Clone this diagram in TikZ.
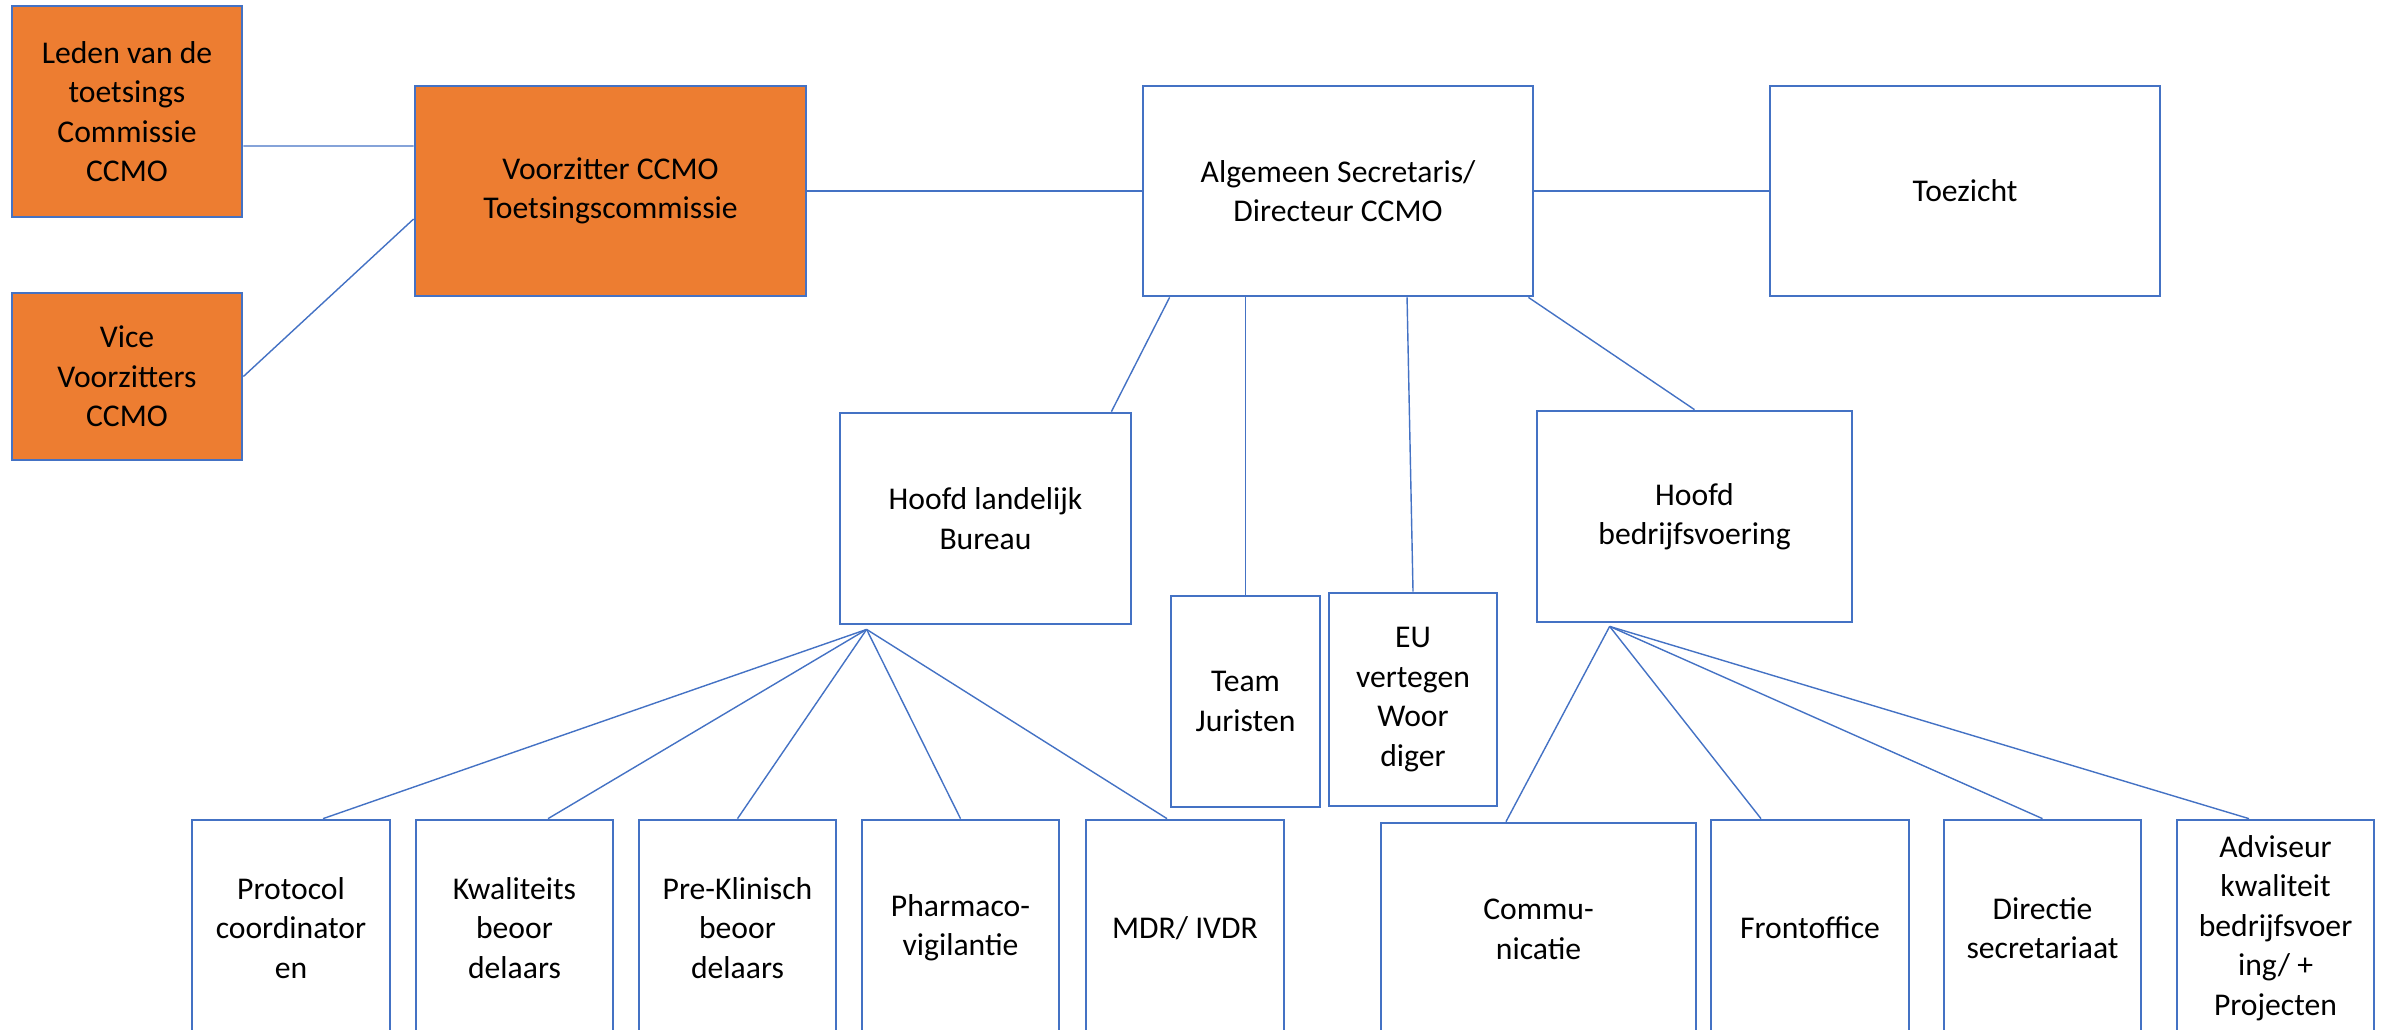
\documentclass[tikz,border=0pt]{standalone}
\usepackage{fontspec}
\setmainfont{Carlito}
\definecolor{ccmoblue}{HTML}{4472C4}
\definecolor{ccmoorange}{HTML}{ED7D31}
\begin{document}
\begin{tikzpicture}[x=0.01cm, y=-0.01cm,
    box/.style={draw=ccmoblue, line width=0.75pt, fill=white, align=center, inner sep=2pt, font=\fontsize{9}{11.2}\selectfont},
    orangebox/.style={box, fill=ccmoorange},
    link/.style={draw=ccmoblue, line width=0.4pt}]
     \path[use as bounding box](0,0) rectangle (2389,1029);
     \clip(0,0) rectangle (2389,1029);
     \node[orangebox, minimum width=2.3cm, minimum height=2.11cm](leden) at (127,111.5){Leden van de\\toetsings\\Commissie\\CCMO};
     \node[orangebox, minimum width=2.3cm, minimum height=1.67cm](vice) at (127,376.5){Vice\\Voorzitters\\CCMO};
     \node[orangebox, minimum width=3.91cm, minimum height=2.1cm](voorz) at (610.5,191){Voorzitter CCMO\\Toetsingscommissie};
     \node[box, minimum width=3.9cm, minimum height=2.1cm](algsec) at (1338,191){Algemeen Secretaris/\\Directeur CCMO};
     \node[box, minimum width=3.9cm, minimum height=2.1cm](toez) at (1965,191){Toezicht};
     \node[box, minimum width=2.91cm, minimum height=2.11cm](hlb) at (985.5,518.5){Hoofd landelijk\\Bureau};
     \node[box, minimum width=1.49cm, minimum height=2.11cm](team) at (1245.5,701.5){Team\\Juristen};
     \node[box, minimum width=1.68cm, minimum height=2.13cm](eu) at (1413,699.5){EU\\vertegen\\Woor\\diger};
     \node[box, minimum width=3.15cm, minimum height=2.11cm](hbv) at (1694.5,516.5){Hoofd\\bedrijfsvoering};
     \node[box, minimum width=1.98cm, minimum height=2.16cm](protocol) at (291,928){Protocol\\coordinator\\en};
     \node[box, minimum width=1.97cm, minimum height=2.16cm](kwal) at (514.5,928){Kwaliteits\\beoor\\delaars};
     \node[box, minimum width=1.97cm, minimum height=2.16cm](prekl) at (737.5,928){Pre-Klinisch\\beoor\\delaars};
     \node[box, minimum width=1.97cm, minimum height=2.16cm](pharma) at (960.5,928){Pharmaco-\\vigilantie};
     \node[box, minimum width=1.98cm, minimum height=2.16cm](mdr) at (1185,928){MDR/ IVDR};
     \node[box, minimum width=3.15cm, minimum height=2.13cm](commu) at (1538.5,929.5){Commu-\\nicatie};
     \node[box, minimum width=1.98cm, minimum height=2.16cm](front) at (1810,928){Frontoffice};
     \node[box, minimum width=1.97cm, minimum height=2.16cm](direc) at (2042.5,928){Directie\\secretariaat};
     \node[box, minimum width=1.97cm, minimum height=2.16cm](advis) at (2275.5,928){Adviseur\\kwaliteit\\bedrijfsvoer\\ing/ +\\Projecten};
     \draw[link]([yshift=-0.345cm]leden.east)--([yshift=0.45cm]voorz.west);
     \draw[link](vice.east)--([yshift=-0.28cm]voorz.west);
     \draw[link](voorz.east)--(algsec.west);
     \draw[link](algsec.east)--(toez.west);
     \draw[link]([xshift=0.28cm]algsec.south west)--([xshift=-0.21cm]hlb.north east);
     \draw[link](algsec.south -| team.north)--(team.north);
     \draw[link]([xshift=0.69cm]algsec.south)--(eu.north);
     \draw[link]([xshift=-0.06cm]algsec.south east)--(hbv.north);
     \coordinate(hlbfan) at ([xshift=0.28cm, yshift=-0.04cm]hlb.south west);
     \coordinate(hbvfan) at ([xshift=0.74cm, yshift=-0.03cm]hbv.south west);
     \foreach \t/\s in {protocol/0.32, kwal/0.335, prekl/0, pharma/0, mdr/-0.18}
     {
         \draw[link](hlbfan)--([xshift=\s cm]\t.north);
     }
     \foreach \t/\s in {commu/-0.325, front/-0.49, direc/0, advis/-0.265}
     {
         \draw[link](hbvfan)--([xshift=\s cm]\t.north);
     }
 \end{tikzpicture}
\end{document}
